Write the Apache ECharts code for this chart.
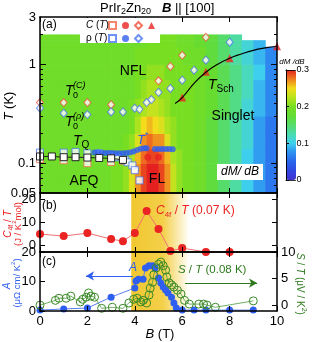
<!DOCTYPE html>
<html><head><meta charset="utf-8">
<script src="https://cdn.jsdelivr.net/npm/echarts@6/dist/echarts.min.js"></script>
<style>html,body{margin:0;padding:0;background:#fff}#c{width:312px;height:342px}</style>
</head><body><div id="c"></div>
<script>
const FONT = '"Liberation Sans", Arial, Helvetica, sans-serif';
// ---------------- data ----------------
const heatBEdges = [0,1,2,3,3.5,3.75,4,4.25,4.5,4.75,5,5.25,5.5,5.75,6,6.5,7,7.5,8,8.5,9,9.5,10];
const heatTEdges = [0.05,0.07,0.1,0.14,0.2,0.3,0.45,0.7,1.0,1.5,1.75,2.0];
const heatZ = [
 [0.19,0.19,0.19,0.2,0.21,0.24,0.27,0.29,0.3,0.3,0.29,0.27,0.23,0.21,0.2,0.19,0.17,0.15,0.13,0.1,0.08,0.06],
 [0.19,0.19,0.19,0.2,0.21,0.24,0.27,0.29,0.3,0.3,0.29,0.27,0.23,0.21,0.2,0.19,0.17,0.15,0.13,0.1,0.08,0.06],
 [0.19,0.19,0.19,0.2,0.2,0.22,0.26,0.28,0.29,0.29,0.28,0.26,0.22,0.21,0.2,0.19,0.17,0.15,0.13,0.1,0.08,0.06],
 [0.19,0.19,0.19,0.19,0.2,0.21,0.24,0.27,0.28,0.27,0.27,0.24,0.21,0.2,0.2,0.19,0.17,0.15,0.13,0.11,0.08,0.06],
 [0.19,0.19,0.19,0.19,0.19,0.2,0.22,0.25,0.26,0.25,0.24,0.22,0.21,0.2,0.2,0.19,0.17,0.15,0.13,0.11,0.08,0.06],
 [0.19,0.19,0.19,0.19,0.19,0.2,0.21,0.22,0.23,0.23,0.22,0.21,0.2,0.2,0.2,0.19,0.18,0.16,0.14,0.11,0.09,0.07],
 [0.19,0.19,0.19,0.19,0.19,0.19,0.2,0.21,0.22,0.22,0.21,0.21,0.2,0.2,0.2,0.19,0.18,0.16,0.14,0.12,0.09,0.07],
 [0.19,0.19,0.19,0.19,0.19,0.19,0.2,0.2,0.21,0.21,0.21,0.2,0.2,0.2,0.2,0.19,0.18,0.16,0.14,0.12,0.1,0.07],
 [0.19,0.19,0.19,0.19,0.19,0.19,0.2,0.2,0.2,0.2,0.2,0.2,0.2,0.2,0.19,0.19,0.17,0.15,0.13,0.11,0.09,0.07],
 [0.19,0.19,0.19,0.19,0.19,0.19,0.19,0.19,0.2,0.2,0.2,0.2,0.2,0.19,0.19,0.18,0.17,0.15,0.13,0.11,0.09,null],
 [0.19,0.19,0.19,0.19,0.19,0.19,0.19,0.19,0.2,0.2,0.2,0.2,0.2,0.19,0.19,0.18,0.17,0.15,0.13,null,null,null]
];
const t0C_B = [0,1,2,3,5,5.5,6,7];
const t0C_T = [0.41,0.41,0.41,0.39,0.68,0.95,1.23,1.87];
const t0R_B = [0,1,2,3,3.5,4,4.2,4.5,4.7,5,5.5,6,6.5,7,8];
const t0R_T = [0.36,0.32,0.31,0.33,0.33,0.36,0.35,0.41,0.44,0.52,0.57,0.69,0.87,1.1,1.67];
const tschPtB = [6,7,8,10];
const tschPtT = [0.46,0.84,1.15,1.52];
const tschLineB = [5.7,6,6.5,7,7.5,8,8.5,9,9.5,10];
const tschLineT = [0.40,0.46,0.64,0.83,1.0,1.15,1.27,1.38,1.46,1.52];
const tqB = [0,0.5,1,1.5,2,2.5,3,3.5];
const tqT = [0.117,0.117,0.115,0.115,0.114,0.113,0.112,0.108];
const tqRB = [0,1,1.5,2,2.5,3,3.3,3.6,3.7,3.9,4.0,4.2];
const tqRT = [0.128,0.128,0.13,0.126,0.126,0.12,0.115,0.107,0.102,0.095,0.085,0.067];
const tqCB = [0,1,2,3,3.5,4.0];
const tqCT = [0.11,0.107,0.1,0.103,0.106,0.086];
const tstarB = [2.3,2.45,2.6,2.75,2.9,3.05,3.2,3.35,3.5,3.65,3.8,3.95,4.1,4.25,4.4,4.5,4.85,5.0,5.15,5.3,5.45,5.6];
const tstarT = [0.128,0.128,0.127,0.127,0.127,0.127,0.126,0.126,0.126,0.127,0.128,0.131,0.136,0.14,0.142,0.142,0.139,0.139,0.139,0.139,0.139,0.138];
const flB = [4.55,5.0];
const flT = [0.115,0.115];
const c4fB = [0,1,2,3,3.5,4,4.5,5,5.5,6,7,8];
const c4fV = [4.8,3.9,5.2,2.6,1.7,5.2,14.8,7.0,-2.6,-1.3,-3,-3];
const aB = [0,1,2,3,4.0,4.05,4.15,4.35,4.45,4.6,4.75,4.85,5.0,5.1,5.2,5.3,5.4,5.55,5.65,5.75,6.0,6.5,7.0,8.0,9.0];
const aV = [0.3,0.7,1.0,4.7,7.8,10.2,10.8,10.8,14.6,15.3,15.3,14.6,11.2,9.5,8.1,7.1,6.1,4.7,2.7,1.0,0.3,0.3,0.3,0.3,0.3];
const sB = [0,0.65,0.8,1.1,1.3,1.7,1.8,1.95,2.05,2.15,2.3,2.6,3.05,3.5,3.75,3.95,4.1,4.25,4.35,4.5,4.6,4.65,4.75,4.8,4.9,5.0,5.1,5.2,5.3,5.35,5.45,5.55,5.65,5.8,5.95,6.1,6.3,6.7,6.9,7.05,7.4,9.0];
const sV = [0,0.9,1.3,1.3,1.7,0.6,1.1,1.5,2.3,1.7,1.5,-0.6,-0.4,-0.6,0.4,1.1,1.3,0.6,0.9,0.4,1.9,3.2,4.3,5.7,7.0,7.7,8.1,7.4,6.6,5.3,4.2,3.8,3.4,2.8,2.1,0.9,0.2,0.2,0.2,0,-0.4,0.8];
const bandB = [3.85, 6.3];
const arrowA = [[3.92,11.9],[1.94,11.9]];
const arrowS = [[6.12,4.15],[9.16,4.15]];
const tMajor = [0.1,1];
const tLabels = [0.05,0.1,1,3];
const tMinor = [0.06,0.07,0.08,0.09,0.2,0.3,0.4,0.5,0.6,0.7,0.8,0.9,2];
const cbColors = ['#4432d0','#3048e0','#2a66ec','#2e90f0','#3ecfee','#4cdcb0','#56dc6a','#62dc34','#78de22','#b8e41e','#f2dc1c','#f08020','#e42020'];
// --------------------------------------
const zip = (a,b)=>a.map((v,i)=>[v,b[i]]);
const RED='#ea2323', BLUE='#2f5ff0', GREEN='#3a8a28';
const heatData=[];
heatZ.forEach((row,r)=>row.forEach((v,c)=>{ if(v!=null) heatData.push([heatBEdges[c],heatBEdges[c+1],heatTEdges[r],heatTEdges[r+1],v]); }));

function xa(g,pos,lab){
  return {gridIndex:g, type:'value', min:0, max:10, interval:2, position:pos, z:5,
    axisLine:{show:true,onZero:false,lineStyle:{color:'#000',width:1.5}},
    axisTick:{show:true,inside:true,length:5,lineStyle:{color:'#000',width:1}},
    axisLabel:{show:lab,color:'#000',fontSize:13,fontFamily:FONT,margin:4},
    splitLine:{show:false}};
}
function ya(o){
  return Object.assign({type:'value', z:5,
    axisLine:{show:true,onZero:false,lineStyle:{color:'#000',width:1.5}},
    splitLine:{show:false}}, o);
}
function rs(size,o){ return Object.assign({fontSize:size,fontFamily:FONT,fontStyle:'normal',fontWeight:'normal'},o||{}); }
function txt(x,y,text,o){
  o=o||{};
  const st={text:text, fill:o.fill||'#000', fontSize:o.size||12, fontFamily:FONT,
    fontStyle:o.italic?'italic':'normal', fontWeight:o.bold?'bold':'normal',
    align:o.align||'center', verticalAlign:'middle'};
  if(o.rich) st.rich=o.rich;
  if(o.bg){st.backgroundColor=o.bg; st.padding=o.pad||[2,4];}
  return {type:'text', x:x, y:y, z:100, zlevel:0, rotation:o.rot||0, silent:true, style:st};
}
function richSet(size, fill){
  return {
    n: rs(size,{fill:fill,lineHeight:size+4}),
    i: rs(size,{fill:fill,fontStyle:'italic',lineHeight:size+4}),
    b: rs(size,{fill:fill,fontStyle:'italic',fontWeight:'bold',lineHeight:size+4}),
    s: rs(Math.round(size*0.68),{fill:fill,lineHeight:Math.round(size*0.68),verticalAlign:'bottom'}),
    p: rs(Math.round(size*0.68),{fill:fill,lineHeight:Math.round(size*0.68),verticalAlign:'top'})
  };
}
const bandColor = {type:'linear',x:0,y:0,x2:1,y2:0,colorStops:[{offset:0,color:'#f1c730'},{offset:0.55,color:'#f4d04a'},{offset:1,color:'#ffffff'}]};

const chart = echarts.init(document.getElementById('c'), null, {renderer:'canvas'});
const option = {
  animation:false,
  backgroundColor:'#fff',
  grid:[
    {left:40, top:17, width:237, height:176},
    {left:40, top:193, width:237, height:59},
    {left:40, top:252, width:237, height:59},
    {left:286, top:70, width:10, height:110},
    {left:40, top:17, width:237, height:176}
  ],
  xAxis:[
    xa(0,'bottom',false), xa(0,'top',false),
    xa(1,'bottom',false), xa(1,'top',false),
    xa(2,'bottom',true), xa(2,'top',false),
    {gridIndex:3, type:'value', min:0, max:1, position:'bottom', z:10, axisLine:{show:true,onZero:false,lineStyle:{color:'#000',width:0.8}}, axisTick:{show:false}, axisLabel:{show:false}, splitLine:{show:false}},
    {gridIndex:3, type:'value', min:0, max:1, position:'top', z:10, axisLine:{show:true,onZero:false,lineStyle:{color:'#000',width:0.8}}, axisTick:{show:false}, axisLabel:{show:false}, splitLine:{show:false}},
    {gridIndex:4, type:'value', min:0, max:10, show:false}
  ],
  yAxis:[
    ya({gridIndex:0, type:'log', logBase:10, min:0.05, max:3, position:'left',
      axisTick:{show:true,inside:true,length:6,customValues:tMajor,lineStyle:{color:'#000'}},
      axisLabel:{show:true,customValues:tLabels,color:'#000',fontSize:13,fontFamily:FONT,margin:4,formatter:v=>String(+Number(v).toPrecision(3))}}),
    ya({gridIndex:0, type:'log', logBase:10, min:0.05, max:3, position:'right',
      axisTick:{show:true,inside:true,length:6,customValues:tMajor,lineStyle:{color:'#000'}},
      axisLabel:{show:false}}),
    ya({gridIndex:1, min:-3, max:22.6, position:'left',
      axisTick:{show:true,inside:true,length:5,customValues:[0,10,20],lineStyle:{color:'#000'}},
      axisLabel:{show:true,customValues:[0,10,20],color:'#000',fontSize:13,fontFamily:FONT,margin:4}}),
    ya({gridIndex:1, min:-3, max:22.6, position:'right',
      axisTick:{show:true,inside:true,length:5,customValues:[0,10,20],lineStyle:{color:'#000'}},
      axisLabel:{show:false}}),
    ya({gridIndex:2, min:0, max:20, interval:10, position:'left',
      axisTick:{show:true,inside:true,length:5,lineStyle:{color:'#000'}},
      axisLabel:{show:true,color:'#000',fontSize:13,fontFamily:FONT,margin:4}}),
    ya({gridIndex:2, min:-1.1, max:10, position:'right',
      axisTick:{show:true,inside:true,length:5,customValues:[0,5,10],lineStyle:{color:'#000'}},
      axisLabel:{show:true,customValues:[0,5,10],color:'#000',fontSize:13,fontFamily:FONT,margin:4}}),
    {gridIndex:3, type:'value', min:0, max:0.3, position:'left', z:10, axisLine:{show:true,lineStyle:{color:'#000',width:0.8}}, axisTick:{show:false}, axisLabel:{show:false}, splitLine:{show:false}},
    {gridIndex:3, type:'value', min:0, max:0.3, interval:0.1, position:'right', z:10,
      axisLine:{show:true,lineStyle:{color:'#000',width:0.8}},
      axisTick:{show:true,inside:false,length:3,lineStyle:{color:'#000'}},
      axisLabel:{show:true,color:'#000',fontSize:9,fontFamily:FONT,margin:1,formatter:v=>String(+Number(v).toFixed(1))},
      splitLine:{show:false}},
    {gridIndex:4, type:'log', logBase:10, min:0.05, max:3, position:'left', z:5, axisLine:{show:false},
      axisTick:{show:true,inside:true,length:3,customValues:tMinor,lineStyle:{color:'#000'}}, axisLabel:{show:false}, splitLine:{show:false}},
    {gridIndex:4, type:'log', logBase:10, min:0.05, max:3, position:'right', z:5, axisLine:{show:false},
      axisTick:{show:true,inside:true,length:3,customValues:tMinor,lineStyle:{color:'#000'}}, axisLabel:{show:false}, splitLine:{show:false}}
  ],
  visualMap:{type:'continuous', min:0, max:0.3, dimension:4, seriesIndex:0, calculable:false,
    inRange:{color:cbColors}, left:286, top:70, itemWidth:10, itemHeight:110, padding:0, orient:'vertical', text:null, showLabel:false},
  legend:[
    {data:['C_TQ','C_FL','C_T0','C_Tsch'], left:108, top:21, orient:'horizontal', itemWidth:7, itemHeight:7, itemGap:5, padding:0, z:20, selectedMode:false, formatter:()=>'', textStyle:{fontSize:1}},
    {data:['rho_TQ','rho_Tstar','rho_T0'], left:108, top:34, orient:'horizontal', itemWidth:7, itemHeight:7, itemGap:5, padding:0, z:20, selectedMode:false, formatter:()=>'', textStyle:{fontSize:1}}
  ],
  series:[
    {type:'custom', name:'dMdB', xAxisIndex:0, yAxisIndex:0, z:1, silent:true, clip:true,
      dimensions:['b0','b1','t0','t1','v'], encode:{x:[0,1], y:[2,3]},
      renderItem:function(p,api){
        const a=api.coord([api.value(0),api.value(3)]);
        const b=api.coord([api.value(1),api.value(2)]);
        return {type:'rect', shape:{x:a[0],y:a[1],width:b[0]-a[0]+0.6,height:b[1]-a[1]+0.6}, style:{fill:api.visual('color')}};
      }, data:heatData},
    {type:'scatter', name:'C_T0', xAxisIndex:0, yAxisIndex:0, symbol:'diamond', symbolSize:[7,8],
      itemStyle:{color:'#fff', borderColor:'#f0503c', borderWidth:1}, data:zip(t0C_B,t0C_T)},
    {type:'scatter', name:'rho_T0', xAxisIndex:0, yAxisIndex:0, symbol:'diamond', symbolSize:[7,8],
      itemStyle:{color:'#fff', borderColor:'#4a78f0', borderWidth:1}, data:zip(t0R_B,t0R_T)},
    {type:'line', name:'TschLine', xAxisIndex:0, yAxisIndex:0, smooth:0.5, symbol:'none',
      lineStyle:{color:'#000', width:1.2}, data:zip(tschLineB,tschLineT)},
    {type:'scatter', name:'C_Tsch', xAxisIndex:0, yAxisIndex:0, symbol:'triangle', symbolSize:8,
      itemStyle:{color:RED}, data:zip(tschPtB,tschPtT)},
    {type:'line', name:'TQ', xAxisIndex:0, yAxisIndex:0, symbol:'rect', symbolSize:7, showAllSymbol:true,
      itemStyle:{color:'#fff', borderColor:'#222', borderWidth:1}, lineStyle:{color:'#222', width:1}, data:zip(tqB,tqT)},
    {type:'scatter', name:'C_TQ', xAxisIndex:0, yAxisIndex:0, symbol:'rect', symbolSize:7,
      itemStyle:{color:'#fff', borderColor:'#f06a4a', borderWidth:1}, data:zip(tqCB,tqCT)},
    {type:'scatter', name:'rho_TQ', xAxisIndex:0, yAxisIndex:0, symbol:'rect', symbolSize:7,
      itemStyle:{color:'#fff', borderColor:'#4a78f0', borderWidth:1}, data:zip(tqRB,tqRT)},
    {type:'scatter', name:'rho_Tstar', xAxisIndex:0, yAxisIndex:0, symbol:'circle', symbolSize:6,
      itemStyle:{color:BLUE}, data:zip(tstarB,tstarT)},
    {type:'scatter', name:'C_FL', xAxisIndex:0, yAxisIndex:0, symbol:'circle', symbolSize:7,
      itemStyle:{color:RED}, data:zip(flB,flT)},
    {type:'line', name:'C4f', xAxisIndex:2, yAxisIndex:2, symbol:'circle', symbolSize:8, showAllSymbol:true,
      itemStyle:{color:RED}, lineStyle:{color:'#f07070', width:1}, data:zip(c4fB,c4fV),
      markArea:{silent:true, data:[[{xAxis:bandB[0], itemStyle:{color:bandColor}},{xAxis:bandB[1]}]]}},
    {type:'line', name:'A', xAxisIndex:4, yAxisIndex:4, symbol:'circle', symbolSize:7, showAllSymbol:true,
      itemStyle:{color:BLUE}, lineStyle:{color:'#5b80f0', width:1}, data:zip(aB,aV),
      markArea:{silent:true, data:[[{xAxis:bandB[0], itemStyle:{color:bandColor}},{xAxis:bandB[1]}]]},
      markLine:{silent:true, symbol:['none','arrow'], symbolSize:[7,8], label:{show:false},
        lineStyle:{color:BLUE, width:1.2, type:'solid'},
        data:[[{coord:arrowA[0]},{coord:arrowA[1]}]]}},
    {type:'line', name:'S', xAxisIndex:4, yAxisIndex:5, symbol:'circle', symbolSize:8, showAllSymbol:true,
      itemStyle:{color:'rgba(255,255,255,0)', borderColor:GREEN, borderWidth:1}, lineStyle:{color:'#4a9a38', width:0.8}, data:zip(sB,sV),
      markLine:{silent:true, symbol:['none','arrow'], symbolSize:[7,8], label:{show:false},
        lineStyle:{color:'#2f7a1e', width:1.2, type:'solid'},
        data:[[{coord:arrowS[0]},{coord:arrowS[1]}]]}}
  ],
  graphic:{elements:[
    {type:'rect', z:15, silent:true, shape:{x:80, y:18, width:80, height:25}, style:{fill:'#fff'}},
    txt(100,8,'{n|PrIr}{s|2}{n|Zn}{s|20}{n|   }{b|B}{n| || [100]}',{align:'left',size:13,rich:richSet(13,'#000')}),
    txt(42,25,'(a)',{align:'left',size:12}),
    txt(86,25,'{i|C}{n| (}{i|T}{n|)}',{align:'left',size:10,rich:richSet(10,'#000')}),
    txt(86,38,'{n|ρ (}{i|T}{n|)}',{align:'left',size:10,rich:richSet(10,'#000')}),
    txt(133,71,'NFL',{size:14}),
    txt(65,91,'T',{align:'left',size:14,italic:true}),
    txt(73,85,'(C)',{align:'left',size:9,italic:true}),
    txt(73,96,'0',{align:'left',size:9}),
    txt(65,122,'T',{align:'left',size:14,italic:true}),
    txt(73,116,'(ρ)',{align:'left',size:9,italic:true}),
    txt(73,127,'0',{align:'left',size:9}),
    txt(73,141,'{i|T}{s|Q}',{align:'left',size:14,rich:richSet(14,'#000')}),
    txt(137,140,'{i|T}{p|*}',{align:'left',size:13,rich:richSet(13,BLUE)}),
    txt(208,85,'{i|T}{s|Sch}',{align:'left',size:14,rich:richSet(14,'#000')}),
    txt(233,116,'Singlet',{size:14}),
    txt(84,181,'AFQ',{size:14}),
    txt(157,179,'FL',{size:14}),
    txt(240,172,'dM/ dB',{size:12,italic:true,bg:'#fff',pad:[2,4,2,4]}),
    txt(292,62,'dM /dB',{size:8,italic:true}),
    txt(9,106,'{i|T}{n| (K)}',{size:13,rot:Math.PI/2,rich:richSet(13,'#000')}),
    txt(42,206,'(b)',{align:'left',size:12}),
    txt(156,211,'{i|C}{s|4f}{n| / }{i|T}{n| (0.07 K)}',{align:'left',size:12,rich:richSet(12,RED)}),
    txt(8,224,'{i|C}{s|4f}{n| / }{i|T}',{size:10,rot:Math.PI/2,rich:richSet(10,RED)}),
    txt(18,224,'{n|(J / K}{p|2}{n|mol)}',{size:9.5,rot:Math.PI/2,rich:richSet(9.5,RED)}),
    txt(42,262,'(c)',{align:'left',size:12}),
    txt(133,268,'A',{size:12,italic:true,fill:BLUE}),
    txt(178,270,'{i|S}{n| / }{i|T}{n| (0.08 K)}',{align:'left',size:11.5,rich:richSet(11.5,'#2f7a1e')}),
    txt(7,286,'A',{size:10,italic:true,fill:BLUE,rot:Math.PI/2}),
    txt(17,283,'{n|(μΩ cm/ K}{p|2}{n|)}',{size:9.5,rot:Math.PI/2,rich:richSet(9.5,BLUE)}),
    txt(300,284,'{i|S}{n| / }{i|T}{n| (μV / K}{p|2}{n|)}',{size:10,rot:-Math.PI/2,rich:richSet(10,'#2f7a1e')}),
    txt(160,334,'{i|B}{n| (T)}',{size:13,rich:richSet(13,'#000')})
  ]}
};
chart.setOption(option);
</script></body></html>
